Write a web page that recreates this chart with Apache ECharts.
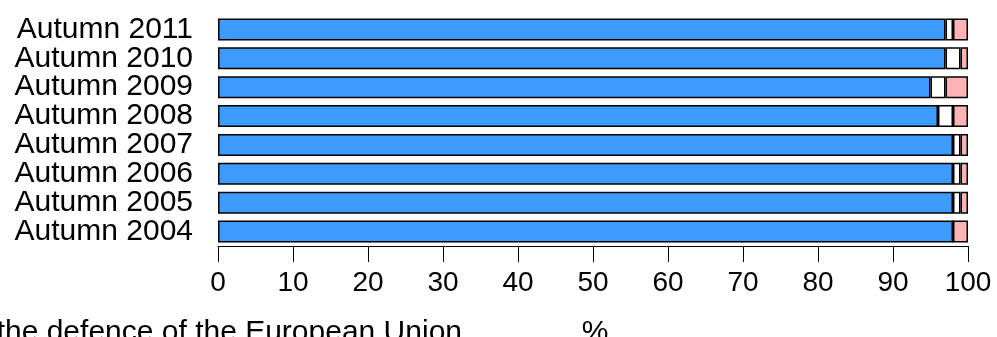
<!DOCTYPE html>
<html>
<head>
<meta charset="utf-8">
<script src="https://cdn.jsdelivr.net/npm/echarts@6/dist/echarts.min.js"></script>
<style>
  html, body { margin: 0; padding: 0; background: #fff; }
  #chart { width: 997px; height: 337px; }
</style>
</head>
<body>
<div id="chart"></div>
<script>
// bottom to top
const categories = ['Autumn 2004', 'Autumn 2005', 'Autumn 2006', 'Autumn 2007',
  'Autumn 2008', 'Autumn 2009', 'Autumn 2010', 'Autumn 2011']
const blueValues = [98, 98, 98, 98, 96, 95, 97, 97]
const whiteValues = [0, 1, 1, 1, 2, 2, 2, 1]
const pinkValues = [2, 1, 1, 1, 2, 3, 1, 2]
const xTicks = [0, 10, 20, 30, 40, 50, 60, 70, 80, 90, 100]

const font = 'Liberation Sans, Arial, sans-serif'
const chart = echarts.init(document.getElementById('chart'))

function bar(name, data, color) {
  return {
    name,
    type: 'bar',
    stack: 'total',
    data,
    barWidth: 22,
    itemStyle: { color, borderColor: '#000', borderWidth: 1.5 },
    emphasis: { disabled: true },
  }
}

chart.setOption({
  backgroundColor: '#fff',
  animation: false,
  grid: { left: 218, right: 29, top: 15, bottom: 91 },
  xAxis: {
    type: 'value',
    min: xTicks[0],
    max: xTicks[xTicks.length - 1],
    interval: 10,
    axisLine: { show: true, lineStyle: { color: '#000', width: 1 } },
    axisTick: { show: true, length: 16, lineStyle: { color: '#000' } },
    axisLabel: { color: '#000', fontSize: 28, fontFamily: font, margin: 23 },
    splitLine: { show: false },
  },
  yAxis: {
    type: 'category',
    data: categories,
    axisLine: { show: false },
    axisTick: { show: false },
    axisLabel: { color: '#000', fontSize: 30, fontFamily: font, margin: 25, interval: 0 },
  },
  series: [
    bar('blue', blueValues, '#3d9bff'),
    bar('white', whiteValues, '#ffffff'),
    bar('pink', pinkValues, '#ffb3b3'),
  ],
  graphic: [
    {
      type: 'text',
      right: 997 - 462,
      top: 318,
      style: { text: 'the defence of the European Union', font: '30px ' + font, fill: '#000' },
    },
    {
      type: 'text',
      x: 595,
      y: 318,
      style: { text: '%', font: '30px ' + font, fill: '#000', align: 'center' },
    },
  ],
})
</script>
</body>
</html>
